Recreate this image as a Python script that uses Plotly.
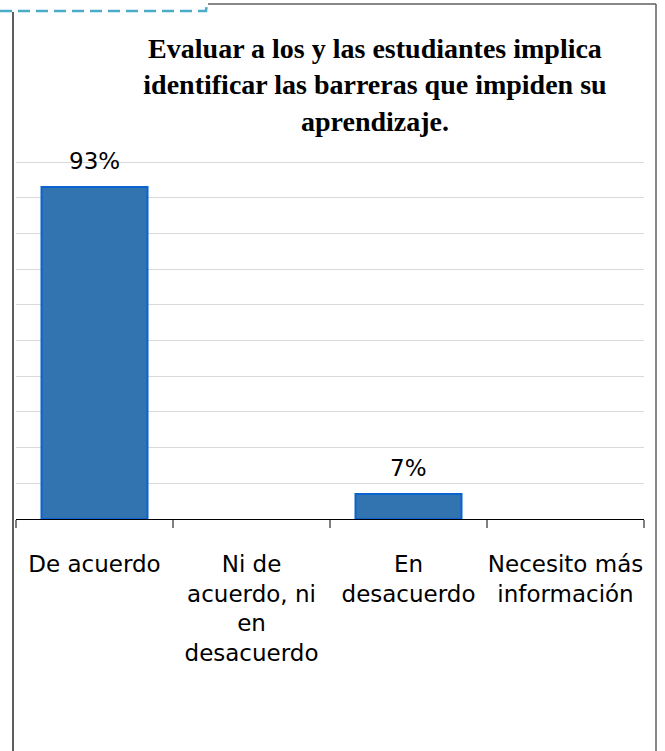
import plotly.graph_objects as go

categorias = [
    "De acuerdo",
    "Ni de<br>acuerdo, ni<br>en<br>desacuerdo",
    "En<br>desacuerdo",
    "Necesito más<br>información",
]
valores = [0.93, 0.0, 0.07, 0.0]
etiquetas = ["93%", "", "7%", ""]

titulo = ("Evaluar a los y las estudiantes implica<br>"
          "identificar las barreras que impiden su<br>"
          "aprendizaje.")

W, H = 665, 751
ML, MR, MT, MB = 16, 21, 161, 232
PW, PH = W - ML - MR, H - MT - MB


# convierte pixeles de la imagen a coordenadas "paper"
def px_x(x):
    return (x - ML) / PW


def px_y(y):
    return 1 - (y - MT) / PH


fig = go.Figure()

fig.add_trace(go.Bar(
    x=categorias,
    y=valores,
    marker=dict(color="#3274B0",
                line=dict(color="#0B63D1",
                          width=[2 if v > 0 else 0 for v in valores])),
))

# rótulos sobre las barras
for c, v, t in zip(categorias, valores, etiquetas):
    if t:
        fig.add_annotation(
            x=c, y=v, text=t, showarrow=False,
            yanchor="bottom", yshift=11,
            font=dict(family="DejaVu Sans", size=23, color="#000000"),
        )

# marco del gráfico
borde = "#5F5F5F"
fig.add_shape(type="line", xref="paper", yref="paper",
              x0=px_x(13), x1=px_x(13), y0=px_y(12), y1=px_y(751),
              line=dict(color=borde, width=2))
fig.add_shape(type="line", xref="paper", yref="paper",
              x0=px_x(656), x1=px_x(656), y0=px_y(4), y1=px_y(751),
              line=dict(color=borde, width=1.5))
fig.add_shape(type="line", xref="paper", yref="paper",
              x0=px_x(208), x1=px_x(656), y0=px_y(4), y1=px_y(4),
              line=dict(color=borde, width=1.5))
# línea punteada turquesa arriba a la izquierda
fig.add_shape(type="path", xref="paper", yref="paper",
              path=f"M {px_x(0)},{px_y(11)} L {px_x(206)},{px_y(11)} "
                   f"L {px_x(207)},{px_y(2)}",
              line=dict(color="#4BACC6", width=2.5, dash="12px,6px"))

fig.update_layout(
    width=W, height=H,
    margin=dict(l=ML, r=MR, t=MT, b=MB, autoexpand=False),
    paper_bgcolor="white",
    plot_bgcolor="white",
    showlegend=False,
    bargap=0.325,
    title=dict(
        text=titulo,
        x=375 / W, xanchor="center",
        y=1 - 58 / H, yanchor="top",
        font=dict(family="Liberation Serif", size=28, color="#000000",
                  weight="bold"),
        automargin=False,
    ),
    xaxis=dict(
        automargin=False, tickangle=0,
        showline=True, linecolor="#000000", linewidth=1,
        ticks="outside", tickson="boundaries", ticklen=8,
        tickcolor="#808080", tickwidth=1.5,
        tickfont=dict(family="DejaVu Sans", size=23, color="#000000"),
        ticklabelstandoff=24,
        showgrid=False,
    ),
    yaxis=dict(
        automargin=False,
        range=[0, 1.003], dtick=0.1,  # un poco más de 1 para que se vea la línea superior
        showticklabels=False,
        showgrid=True, gridcolor="#D9D9D9", gridwidth=1,
        zeroline=False, showline=False,
    ),
)

# quitar el margen por defecto del <body> para que el gráfico quede en (0,0)
fig.write_html("out.html", config={"displayModeBar": False},
               post_script="document.body.style.margin='0px';")
